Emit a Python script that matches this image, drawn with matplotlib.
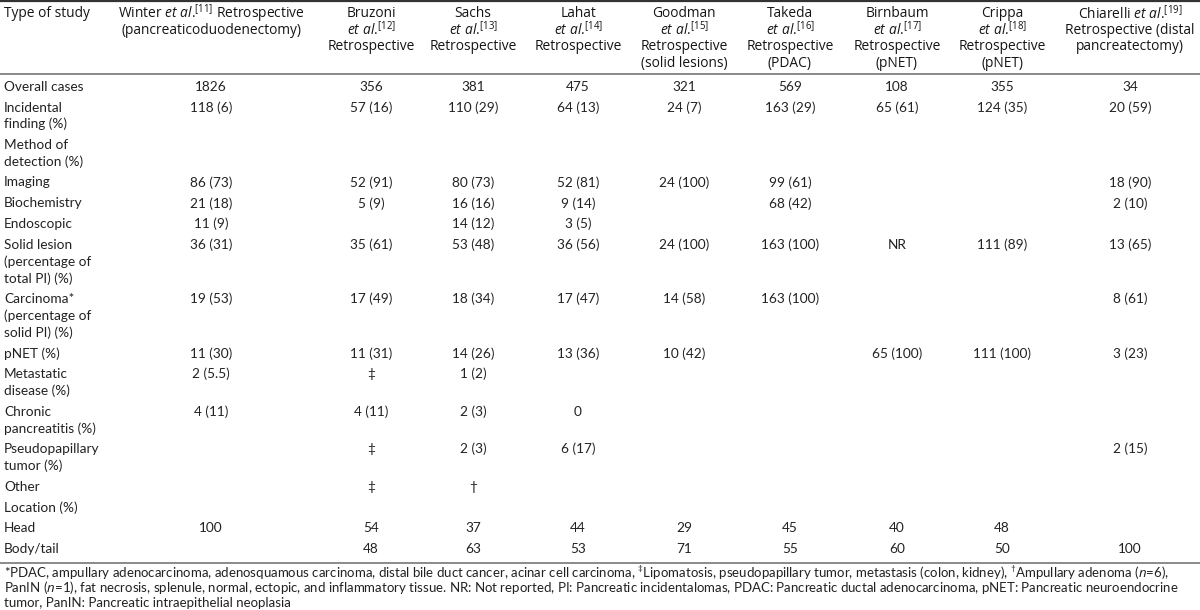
import matplotlib
matplotlib.use("Agg")
import matplotlib.pyplot as plt

plt.rcParams['font.family'] = ['Open Sans', 'DejaVu Sans']
plt.rcParams['mathtext.fontset'] = 'custom'
plt.rcParams['mathtext.rm'] = 'Open Sans'
plt.rcParams['mathtext.it'] = 'Open Sans:italic'
plt.rcParams['mathtext.bf'] = 'Open Sans:bold'

# header of each study column (one string per line)
corner = "Type of study"
headers = [
    [r"Winter $\mathit{et\ al}$.$^{[11]}$ Retrospective", "(pancreaticoduodenectomy)"],
    ["Bruzoni", r"$\mathit{et\ al}$.$^{[12]}$", "Retrospective"],
    ["Sachs", r"$\mathit{et\ al}$.$^{[13]}$", "Retrospective"],
    ["Lahat", r"$\mathit{et\ al}$.$^{[14]}$", "Retrospective"],
    ["Goodman", r"$\mathit{et\ al}$.$^{[15]}$", "Retrospective", "(solid lesions)"],
    ["Takeda", r"$\mathit{et\ al}$.$^{[16]}$", "Retrospective", "(PDAC)"],
    ["Birnbaum", r"$\mathit{et\ al}$.$^{[17]}$", "Retrospective", "(pNET)"],
    ["Crippa", r"$\mathit{et\ al}$.$^{[18]}$", "Retrospective", "(pNET)"],
    [r"Chiarelli $\mathit{et\ al}$.$^{[19]}$", "Retrospective (distal", "pancreatectomy)"],
]

row_labels = [
    ["Overall cases"],
    ["Incidental", "finding (%)"],
    ["Method of", "detection (%)"],
    ["Imaging"],
    ["Biochemistry"],
    ["Endoscopic"],
    ["Solid lesion", "(percentage of", "total PI) (%)"],
    ["Carcinoma*", "(percentage of", "solid PI) (%)"],
    ["pNET (%)"],
    ["Metastatic", "disease (%)"],
    ["Chronic", "pancreatitis (%)"],
    ["Pseudopapillary", "tumor (%)"],
    ["Other"],
    ["Location (%)"],
    ["Head"],
    ["Body/tail"],
]

winter = ["1826", "118 (6)", "", "86 (73)", "21 (18)", "11 (9)", "36 (31)", "19 (53)",
          "11 (30)", "2 (5.5)", "4 (11)", "", "", "", "100", ""]
bruzoni = ["356", "57 (16)", "", "52 (91)", "5 (9)", "", "35 (61)", "17 (49)",
           "11 (31)", "\u2021", "4 (11)", "\u2021", "\u2021", "", "54", "48"]
sachs = ["381", "110 (29)", "", "80 (73)", "16 (16)", "14 (12)", "53 (48)", "18 (34)",
         "14 (26)", "1 (2)", "2 (3)", "2 (3)", "\u2020", "", "37", "63"]
lahat = ["475", "64 (13)", "", "52 (81)", "9 (14)", "3 (5)", "36 (56)", "17 (47)",
         "13 (36)", "", "0", "6 (17)", "", "", "44", "53"]
goodman = ["321", "24 (7)", "", "24 (100)", "", "", "24 (100)", "14 (58)",
           "10 (42)", "", "", "", "", "", "29", "71"]
takeda = ["569", "163 (29)", "", "99 (61)", "68 (42)", "", "163 (100)", "163 (100)",
          "", "", "", "", "", "", "45", "55"]
birnbaum = ["108", "65 (61)", "", "", "", "", "NR", "",
            "65 (100)", "", "", "", "", "", "40", "60"]
crippa = ["355", "124 (35)", "", "", "", "", "111 (89)", "",
          "111 (100)", "", "", "", "", "", "48", "50"]
chiarelli = ["34", "20 (59)", "", "18 (90)", "2 (10)", "", "13 (65)", "8 (61)",
             "3 (23)", "", "", "2 (15)", "", "", "", "100"]
columns = [winter, bruzoni, sachs, lahat, goodman, takeda, birnbaum, crippa, chiarelli]

footnote = [
    r"*PDAC, ampullary adenocarcinoma, adenosquamous carcinoma, distal bile duct cancer, acinar cell carcinoma, "
    r"$^{\ddagger}$Lipomatosis, pseudopapillary tumor, metastasis (colon, kidney), $^{\dagger}$Ampullary adenoma ($\mathit{n}$=6),",
    r"PanIN ($\mathit{n}$=1), fat necrosis, splenule, normal, ectopic, and inflammatory tissue. NR: Not reported, "
    r"PI: Pancreatic incidentalomas, PDAC: Pancreatic ductal adenocarcinoma, pNET: Pancreatic neuroendocrine",
    "tumor, PanIN: Pancreatic intraepithelial neoplasia",
]

# layout (pixels)
col_x = [211, 371, 473, 578, 684, 790, 897, 1002, 1130]
label_x = 4
head_y0, head_dy = 13.3, 16.7
body_y0, line_dy, row_gap = 86.7, 16.7, 20.8
text_color = "#222222"
body_family = ['Lato', 'DejaVu Sans']

fig = plt.figure(figsize=(12, 6.1), dpi=100)
ax = fig.add_axes([0, 0, 1, 1])
ax.set_xlim(0, 1200)
ax.set_ylim(610, 0)
ax.axis("off")

# rules
ax.axhline(0.8, color="#333333", lw=1.6)
ax.axhline(74, color="#8a8a8a", lw=1.4)
ax.axhline(563, color="#8a8a8a", lw=1.4)

# header
hfont = dict(fontsize=9.9, color="#151515", va="center")
ax.text(label_x, head_y0, corner, ha="left", **hfont)
for x, lines in zip(col_x, headers):
    for k, s in enumerate(lines):
        ax.text(x, head_y0 + k * head_dy, s, ha="center", **hfont)

# body
bfont = dict(fontsize=9.8, color=text_color, va="center", family=body_family)
y = body_y0
for i, lab in enumerate(row_labels):
    for k, s in enumerate(lab):
        ax.text(label_x, y + k * line_dy, s, ha="left", **bfont)
    for x, col in zip(col_x, columns):
        if col[i]:
            ax.text(x, y, col[i], ha="center", **bfont)
    y += (len(lab) - 1) * line_dy + row_gap

# footnote
for k, s in enumerate(footnote):
    ax.text(label_x, 573 + k * 14.8, s, ha="left", fontsize=9.5, color=text_color,
            va="center", family=body_family)

fig.savefig("out.png", dpi=100)
